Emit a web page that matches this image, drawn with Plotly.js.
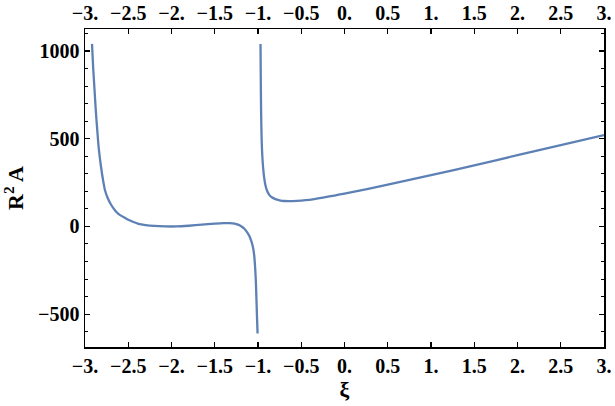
<!DOCTYPE html>
<html>
<head>
<meta charset="utf-8">
<script src="https://cdn.plot.ly/plotly-3.0.1.min.js"></script>
<style>html,body{margin:0;padding:0;background:#fff;}#chart{width:615px;height:406px;}</style>
</head>
<body>
<div id="chart"></div>
<script>
// Left branch of R^2 A versus xi
const xiLeft = [-2.919, -2.905, -2.89, -2.875, -2.857, -2.84, -2.815, -2.79, -2.768, -2.74, -2.70, -2.65, -2.614, -2.55, -2.50, -2.44, -2.383, -2.30, -2.20, -2.073, -1.94, -1.80, -1.65, -1.50, -1.40, -1.33, -1.27, -1.23, -1.19, -1.16, -1.127, -1.10, -1.08, -1.06, -1.045, -1.035, -1.025, -1.019, -1.012, -1.005];
const r2aLeft = [1040, 900, 780, 660, 540, 440, 340, 260, 205, 165, 125, 90, 72, 52, 38, 25, 15, 8, 3, 0, 0, 4, 10, 16, 19, 19, 16, 10, 0, -12, -32, -55, -80, -115, -160, -220, -310, -400, -510, -610];
// Right branch
const xiRight = [-0.971, -0.968, -0.964, -0.958, -0.950, -0.940, -0.928, -0.912, -0.893, -0.87, -0.84, -0.80, -0.75, -0.70, -0.645, -0.55, -0.45, -0.35, -0.25, -0.1, 0, 0.5, 1, 1.5, 2, 2.5, 3];
const r2aRight = [1040, 850, 650, 500, 400, 330, 275, 230, 200, 180, 166, 156, 149, 145, 144, 145.5, 149.5, 156, 164, 177.5, 187, 238, 292, 348, 406, 463, 520];

const xTickVals = [-3, -2.5, -2, -1.5, -1, -0.5, 0, 0.5, 1, 1.5, 2, 2.5, 3];
const xTickText = ["\u22123.", "\u22122.5", "\u22122.", "\u22121.5", "\u22121.", "\u22120.5", "0.", "0.5", "1.", "1.5", "2.", "2.5", "3."];
const yTickVals = [-500, 0, 500, 1000];
const yTickText = ["\u2212500", "0", "500", "1000"];

const lineColor = "#5E81B5";
const font = {family: "Liberation Serif, Times New Roman, serif", size: 20, color: "#000", weight: "bold"};

const lineStyle = {color: lineColor, width: 2.3, shape: "spline", smoothing: 0.8};
const traces = [
  {x: xiLeft, y: r2aLeft, type: "scatter", mode: "lines", line: lineStyle, hoverinfo: "skip"},
  {x: xiRight, y: r2aRight, type: "scatter", mode: "lines", line: lineStyle, hoverinfo: "skip"},
  {x: [-3, 3], y: [0, 0], xaxis: "x2", yaxis: "y", type: "scatter", mode: "lines", line: {width: 0, color: "rgba(0,0,0,0)"}, hoverinfo: "skip"}
];

const axCommon = {showgrid: false, zeroline: false, showline: true, linecolor: "#000", linewidth: 1.5, ticks: "inside", tickcolor: "#000", tickwidth: 1.2, tickfont: font};

const layout = {
  width: 615, height: 406,
  margin: {l: 85, r: 11, t: 29, b: 59},
  paper_bgcolor: "#fff", plot_bgcolor: "#fff",
  showlegend: false,
  font: font,
  xaxis: Object.assign({}, axCommon, {range: [-3, 3], tickvals: xTickVals, ticktext: xTickText, ticklen: 5, mirror: "ticks", title: {text: "\u03BE", font: Object.assign({}, font, {size: 22}), standoff: 6}}),
  xaxis2: Object.assign({}, axCommon, {range: [-3, 3], tickvals: xTickVals, ticktext: xTickText, ticklen: 5, overlaying: "x", side: "top", anchor: "y"}),
  yaxis: Object.assign({}, axCommon, {range: [-687, 1125], tickvals: yTickVals, ticktext: yTickText, ticklen: 5, mirror: "ticks", minor: {ticks: "inside", dtick: 100, tick0: 0, ticklen: 3, tickcolor: "#000", tickwidth: 1}, title: {text: "R<sup>2</sup> A", font: Object.assign({}, font, {size: 22}), standoff: 8}})
};

Plotly.newPlot("chart", traces, layout, {staticPlot: true, displayModeBar: false});
</script>
</body>
</html>
